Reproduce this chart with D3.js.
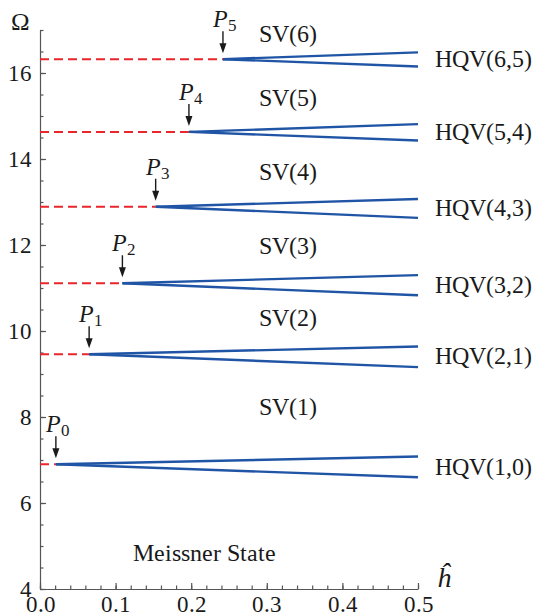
<!DOCTYPE html>
<html>
<head>
<meta charset="utf-8">
<script src="https://cdn.jsdelivr.net/npm/d3@7"></script>
<style>
@font-face { font-family: "ChartSerif"; src: local("Liberation Serif"), local("LiberationSerif"), local("Liberation Serif Regular"); font-style: normal; }
@font-face { font-family: "ChartSerif"; src: local("Liberation Serif Italic"), local("LiberationSerif-Italic"); font-style: italic; }
body { margin:0; font-family: "Liberation Serif", serif; }
</style>
</head>
<body>
<script>
// bifurcation points P0..P5
var pointH     = [0.021, 0.065, 0.109, 0.153, 0.197, 0.242];
var pointOmega = [6.90, 9.46, 11.11, 12.89, 14.63, 16.32];
// branch values at h = 0.5
var endH = 0.5;
var upperOmega = [7.08, 9.64, 11.30, 13.07, 14.81, 16.48];
var lowerOmega = [6.60, 9.16, 10.83, 12.63, 14.43, 16.15];

var svLabels  = ["SV(1)", "SV(2)", "SV(3)", "SV(4)", "SV(5)", "SV(6)"];
var svOmega   = [8.23, 10.3, 11.98, 13.7, 15.4, 16.91];
var hqvLabels = ["HQV(1,0)", "HQV(2,1)", "HQV(3,2)", "HQV(4,3)", "HQV(5,4)", "HQV(6,5)"];

var xTicks = [0.0, 0.1, 0.2, 0.3, 0.4, 0.5];
var yTicks = [4, 6, 8, 10, 12, 14, 16];

var width = 542, height = 616;
var serif = "ChartSerif, 'Liberation Serif', serif";
var x = d3.scaleLinear().domain([0, 0.5]).range([40, 418]);
var y = d3.scaleLinear().domain([4, 17]).range([589, 30]);

var svg = d3.select("body").append("svg").attr("width", width).attr("height", height)
  .attr("font-family", serif);

// axes
var xMinor = d3.range(0, 0.5001, 0.02);
var yMinor = d3.range(4, 17.001, 0.5);

svg.append("g").attr("transform","translate(0,"+y(4)+")")
  .call(d3.axisBottom(x).tickValues(xMinor).tickFormat("").tickSizeInner(-3.5).tickSizeOuter(0))
  .select(".domain").remove();
svg.append("g").attr("transform","translate("+x(0)+",0)")
  .call(d3.axisLeft(y).tickValues(yMinor).tickFormat("").tickSizeInner(-3.5).tickSizeOuter(0))
  .select(".domain").remove();

svg.append("g").attr("transform","translate(0,"+y(4)+")")
  .call(d3.axisBottom(x).tickValues(xTicks).tickFormat(d3.format(".1f")).tickSizeInner(-6).tickSizeOuter(0).tickPadding(7));
svg.append("g").attr("transform","translate("+x(0)+",0)")
  .call(d3.axisLeft(y).tickValues(yTicks).tickFormat(d3.format("d")).tickSizeInner(-6).tickSizeOuter(0).tickPadding(8));

svg.selectAll("g").attr("font-family", null).attr("font-size", 23);
svg.selectAll(".tick line, .domain").attr("stroke", "#555").attr("stroke-width", 1.2);

// axis titles
svg.append("text").attr("x", 11).attr("y", 30).attr("font-size", 25).text("Ω");
svg.append("text").attr("x", 437).attr("y", 587).attr("font-size", 28).attr("font-style","italic").text("ĥ");

// red dashed Meissner boundaries
svg.append("g").selectAll("line").data(pointH).join("line")
  .attr("x1", x(0)).attr("x2", function(d){ return x(d); })
  .attr("y1", function(d,i){ return y(pointOmega[i]); })
  .attr("y2", function(d,i){ return y(pointOmega[i]); })
  .attr("stroke","#e8262b").attr("stroke-width",2).attr("stroke-dasharray","9,5");

// blue HQV branches
var line = d3.line().x(function(d){ return x(d[0]); }).y(function(d){ return y(d[1]); });
var branches = [];
pointH.forEach(function(h,i){
  branches.push([[h, pointOmega[i]], [endH, upperOmega[i]]]);
  branches.push([[h, pointOmega[i]], [endH, lowerOmega[i]]]);
});
svg.append("g").selectAll("path").data(branches).join("path")
  .attr("d", line).attr("fill","none").attr("stroke","#2055a6").attr("stroke-width",2.4);

// P labels with arrows
var pg = svg.append("g").selectAll("g").data(pointH).join("g")
  .attr("transform", function(d,i){ return "translate("+x(d)+","+y(pointOmega[i])+")"; });
pg.append("line").attr("x1",0).attr("x2",0).attr("y1",-28).attr("y2",-14)
  .attr("stroke","#1a1a1a").attr("stroke-width",1.4);
pg.append("path").attr("d","M-3.5,-16L3.5,-16L0,-6Z").attr("fill","#1a1a1a");
var pt = pg.append("text").attr("x",-10).attr("y",-32).attr("font-size", 24);
pt.append("tspan").attr("font-style","italic").text("P");
pt.append("tspan").attr("dy",4).attr("font-size", 17).text(function(d,i){ return i; });

// region labels
svg.append("g").selectAll("text").data(svLabels).join("text")
  .attr("x", 288).attr("y", function(d,i){ return y(svOmega[i]); }).attr("dy","0.32em")
  .attr("text-anchor","middle").attr("font-size", 24).text(function(d){ return d; });

svg.append("g").selectAll("text").data(hqvLabels).join("text")
  .attr("x", 435).attr("y", function(d,i){ return y((upperOmega[i]+lowerOmega[i])/2); }).attr("dy","0.32em")
  .attr("font-size", 24).text(function(d){ return d; });

svg.append("text").attr("x", 204).attr("y", y(4.84)).attr("dy","0.32em")
  .attr("text-anchor","middle").attr("font-size", 24).text("Meissner State");

svg.selectAll("text").attr("fill", "#1a1a1a")
  .attr("style", "font-family: ChartSerif, 'Liberation Serif', serif");
</script>
</body>
</html>
